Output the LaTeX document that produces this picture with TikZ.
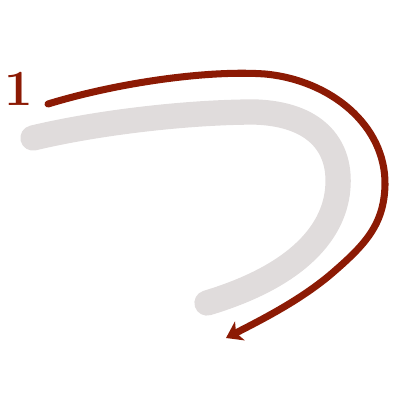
\documentclass[tikz,border=0pt]{standalone}
\usepackage{tikz}
\usetikzlibrary{arrows.meta}
\definecolor{strokecolor}{HTML}{E0DCDC}
\definecolor{ordercolor}{HTML}{8C1A04}

\begin{document}
\begin{tikzpicture}[
    x=0.025cm, y=-0.025cm,
    brush/.style={draw=strokecolor, line width=18pt, line cap=round},
    orderarr/.style={draw=ordercolor, line width=5pt, line cap=round,
                     -{Stealth[length=11pt, width=15pt, inset=3pt]}},
    numlabel/.style={text=ordercolor, inner sep=0pt,
                     font=\fontsize{36}{36}\selectfont\bfseries}
]
    \useasboundingbox (0,0) rectangle (400,400);

    % Stroke shape
    \draw[brush] (33,138) .. controls (100,122) and (190,112) .. (255,112)
        .. controls (315,114) and (340,145) .. (338,185)
        .. controls (336,230) and (300,275) .. (207,303);

    % Order label
    \node[numlabel] (one) at (19,89) {1};

    % Direction arrow
    \coordinate (start) at (48,104);
    \coordinate (finish) at (226,338);
    \draw[orderarr] (start) .. controls (120,82) and (210,70) .. (265,74)
        .. controls (330,80) and (386,125) .. (385,185)
        .. controls (384,225) and (365,245) .. (330,275)
        .. controls (300,300) and (265,318) .. (finish);
\end{tikzpicture}
\end{document}
